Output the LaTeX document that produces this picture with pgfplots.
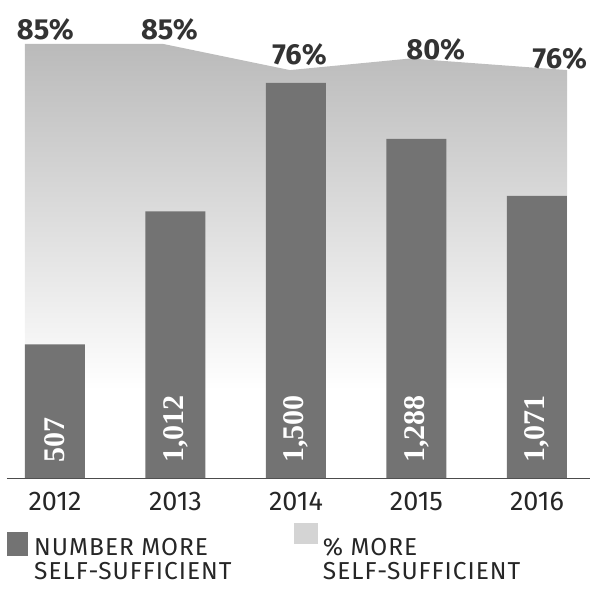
\documentclass[border=0pt]{standalone}
\usepackage{fontspec}
\setmainfont{Fira Sans}
\newfontfamily\numfont{Liberation Serif}
\newfontfamily\legfont[LetterSpace=4]{Fira Sans}
\usepackage{pgfplots}
\pgfplotsset{compat=1.18}
\begin{document}
\begin{tikzpicture}[x=1pt,y=1pt]
\useasboundingbox (-7,-112) rectangle (586,478);
% percentage area (own scale)
\begin{axis}[at={(0,0)}, anchor=south west, scale only axis,
  width=583pt, height=448pt, xmin=-0.398, xmax=4.44, ymin=-64.7, ymax=89.83,
  hide axis, clip=false]
\addplot[draw=none, top color=black!27, middle color=black!8, bottom color=white]
  coordinates {(-0.25,-34.3) (-0.25,85) (0.9,85) (1.95,76) (2.95,80) (4.25,76) (4.25,-34.3)} -- cycle;
\addplot[draw=none, mark=none, nodes near coords, point meta=explicit symbolic,
  every node near coord/.append style={anchor=base, inner sep=0pt,
    font=\bfseries\fontsize{29}{29}\selectfont, text=black!80}]
  coordinates {(-0.08,86.4) [85\%] (0.95,86.7) [85\%] (2.03,77.8) [76\%] (3.16,79.5) [80\%] (4.19,76.7) [76\%]};
\end{axis}
% bars
\begin{axis}[at={(0,0)}, anchor=south west, scale only axis,
  width=583pt, height=448pt, xmin=-0.398, xmax=4.44, ymin=0, ymax=1701,
  axis y line=none, axis x line*=bottom,
  axis line style={black!70, line width=0.8pt},
  xtick={0,1,2,3,4}, xticklabels={2012,2013,2014,2015,2016},
  xtick style={draw=none},
  xticklabel style={font=\fontsize{27}{27}\selectfont, text=black!85, yshift=-11pt},
  clip=false,
  legend columns=2,
  legend cell align=left,
  legend style={at={(0,-0.1005)}, anchor=north west, draw=none, fill=none,
    inner sep=0pt, cells={align=left, inner ysep=0pt},
    font=\legfont\fontsize{24.5}{24}\selectfont, text=black!85,
    /tikz/every odd column/.append style={column sep=4pt},
    /tikz/every even column/.append style={column sep=60pt}},
]
\addplot[ybar, bar width=60pt, fill=black!55, draw=none,
  legend image code/.code={\fill[black!55] (0pt,3pt) rectangle (21pt,27pt);}]
  coordinates {(0,507) (1,1012) (2,1500) (3,1288) (4,1071)};
\addlegendentry{NUMBER MORE\\SELF-SUFFICIENT}
\addplot[forget plot, draw=none, mark=none, nodes near coords, point meta=explicit symbolic,
  every node near coord/.append style={rotate=90, anchor=west, inner sep=0pt,
    font=\numfont\bfseries\fontsize{30}{30}\selectfont, text=white}]
  coordinates {(0,57) [507] (1,57) [{1,012}] (2,57) [{1,500}] (3,57) [{1,288}] (4,57) [{1,071}]};
\addlegendimage{legend image code/.code={\fill[black!17] (0pt,16pt) rectangle (23pt,36pt);}}
\addlegendentry{\% MORE\\SELF-SUFFICIENT}
\end{axis}
\end{tikzpicture}
\end{document}
